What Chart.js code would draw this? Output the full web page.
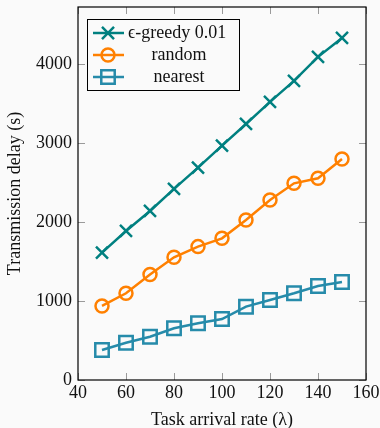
<!DOCTYPE html>
<html>
<head>
<meta charset="utf-8">
<script src="https://cdn.jsdelivr.net/npm/chart.js@4/dist/chart.umd.min.js"></script>
<style>
html, body { margin: 0; padding: 0; background: #fafafa; }
canvas { display: block; }
</style>
</head>
<body>
<canvas id="myChart" width="380" height="428"></canvas>
<script>
// Data
const rates = [50, 60, 70, 80, 90, 100, 110, 120, 130, 140, 150];
const greedy = [1611, 1886, 2139, 2418, 2687, 2966, 3240, 3519, 3785, 4089, 4329];
const randomSel = [937, 1097, 1335, 1553, 1688, 1793, 2025, 2278, 2489, 2553, 2797];
const nearest = [380, 472, 548, 654, 717, 772, 928, 1013, 1097, 1190, 1240];
const seriesNames = ['ϵ-greedy 0.01', 'random', 'nearest'];
const xTicks = [40, 60, 80, 100, 120, 140, 160];
const yTicks = [0, 1000, 2000, 3000, 4000];

const FONT = "'Liberation Serif', 'DejaVu Serif', serif";
const FS = 18;
const TEAL = 'rgb(0,128,128)';
const ORANGE = 'rgb(255,128,0)';
const BLUE = 'rgb(38,139,170)';

function pts(ys) {
  return rates.map((x, i) => ({ x: x, y: ys[i] }));
}

// tick marks inside the frame + black frame (pgfplots style)
const frame = {
  id: 'frame',
  beforeDatasetsDraw(chart) {
    const { ctx, chartArea: a, scales } = chart;
    ctx.save();
    ctx.strokeStyle = '#9a9a9a';
    ctx.lineWidth = 1;
    const len = 7;
    ctx.beginPath();
    scales.x.ticks.forEach(t => {
      const px = Math.round(scales.x.getPixelForValue(t.value)) + 0.5;
      ctx.moveTo(px, a.bottom); ctx.lineTo(px, a.bottom - len);
      ctx.moveTo(px, a.top); ctx.lineTo(px, a.top + len);
    });
    scales.y.ticks.forEach(t => {
      const py = Math.round(scales.y.getPixelForValue(t.value)) + 0.5;
      ctx.moveTo(a.left, py); ctx.lineTo(a.left + len, py);
      ctx.moveTo(a.right, py); ctx.lineTo(a.right - len, py);
    });
    ctx.stroke();
    ctx.strokeStyle = '#000';
    ctx.lineWidth = 1.2;
    ctx.strokeRect(a.left, a.top, a.right - a.left, a.bottom - a.top);
    ctx.restore();
  }
};

// legend box in the top-left corner of the plot
const boxLegend = {
  id: 'boxLegend',
  afterDraw(chart) {
    const { ctx, chartArea: a } = chart;
    const x0 = a.left + 9, y0 = a.top + 12, w = 152, h = 71;
    ctx.save();
    ctx.fillStyle = '#fafafa';
    ctx.fillRect(x0, y0, w, h);
    ctx.strokeStyle = '#000';
    ctx.lineWidth = 1;
    ctx.strokeRect(x0 + 0.5, y0 + 0.5, w, h);
    chart.data.datasets.forEach((ds, i) => {
      const y = y0 + 14 + i * 22;
      ctx.strokeStyle = ds.borderColor;
      ctx.lineWidth = ds.borderWidth;
      ctx.beginPath();
      ctx.moveTo(x0 + 6, y); ctx.lineTo(x0 + 37, y);
      ctx.stroke();
      ctx.fillStyle = 'rgba(0,0,0,0)';
      ctx.strokeStyle = ds.borderColor;
      ctx.lineWidth = ds.pointBorderWidth;
      Chart.helpers.drawPoint(ctx, {
        pointStyle: ds.pointStyle, radius: ds.pointRadius,
        borderWidth: ds.pointBorderWidth, rotation: 0
      }, x0 + 21, y);
      ctx.fillStyle = '#111';
      ctx.font = FS + 'px ' + FONT;
      ctx.textBaseline = 'middle';
      if (i === 0) {
        ctx.textAlign = 'left';
        ctx.fillText(ds.label, x0 + 41, y);
      } else {
        ctx.textAlign = 'center';
        ctx.fillText(ds.label, x0 + 92, y);
      }
    });
    ctx.restore();
  }
};

function series(label, ys, color, style, r) {
  return {
    label: label,
    data: pts(ys),
    borderColor: color,
    backgroundColor: 'transparent',
    borderWidth: 2.5,
    pointStyle: style,
    pointRadius: r,
    pointHoverRadius: r,
    pointBorderColor: color,
    pointBackgroundColor: 'transparent',
    pointBorderWidth: 2.5,
    tension: 0
  };
}

let ctx = document.getElementById('myChart').getContext('2d');
let chart = new Chart(ctx, {
  type: 'line',
  data: {
    datasets: [
      series(seriesNames[0], greedy, TEAL, 'crossRot', 8.5),
      series(seriesNames[1], randomSel, ORANGE, 'circle', 6.5),
      series(seriesNames[2], nearest, BLUE, 'rect', 9.5)
    ]
  },
  options: {
    responsive: false,
    animation: false,
    layout: { autoPadding: false, padding: { left: 0, right: 14, top: 7, bottom: 0 } },
    plugins: { legend: { display: false }, tooltip: { enabled: false } },
    scales: {
      x: {
        type: 'linear',
        min: 40, max: 160,
        afterBuildTicks: s => { s.ticks = xTicks.map(v => ({ value: v })); },
        afterFit: s => { s.height = 48; s.paddingLeft = 0; s.paddingRight = 0; },
        grid: { display: false, drawTicks: false },
        border: { display: false },
        ticks: {
          color: '#111', padding: 2, maxRotation: 0,
          callback: v => String(v),
          font: { family: FONT, size: FS }
        },
        title: {
          display: true, text: 'Task arrival rate (λ)', color: '#111',
          padding: { top: 0, bottom: -3 }, font: { family: FONT, size: FS }
        }
      },
      y: {
        type: 'linear',
        min: 0, max: 4720,
        afterBuildTicks: s => { s.ticks = yTicks.map(v => ({ value: v })); },
        afterFit: s => { s.width = 78; s.paddingTop = 0; s.paddingBottom = 0; },
        grid: { display: false, drawTicks: false },
        border: { display: false },
        ticks: {
          color: '#111', padding: 6,
          callback: v => String(v),
          font: { family: FONT, size: FS }
        },
        title: {
          display: true, text: 'Transmission delay (s)', color: '#111',
          padding: { top: 4, bottom: 0 }, font: { family: FONT, size: FS }
        }
      }
    }
  },
  plugins: [frame, boxLegend]
});
</script>
</body>
</html>
